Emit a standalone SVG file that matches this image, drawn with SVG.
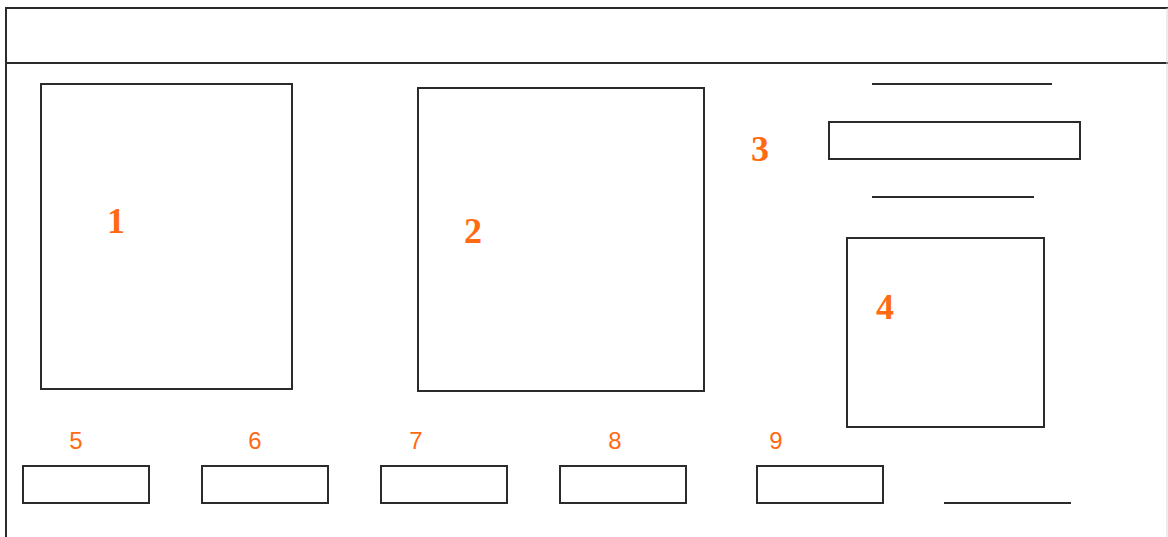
<svg xmlns="http://www.w3.org/2000/svg" width="1168" height="537" viewBox="0 0 1168 537">
<style>
.s{fill:none;stroke:#2b2b2b;stroke-width:2}
.big{font-family:"Liberation Serif",serif;font-size:36px;font-weight:bold;fill:#ff6a13;text-anchor:middle}
.sm{font-family:"Liberation Sans",sans-serif;font-size:24px;fill:#ff6a13;text-anchor:middle}
</style>
<rect width="1168" height="537" fill="#ffffff"/>
<g id="frame">
<path class="s" d="M6,537 V8 H1168 M6,63 H1168"/>
<line x1="1167" y1="8" x2="1167" y2="537" stroke="#d8d8d8" stroke-width="1"/>
</g>
<g id="node1"><rect class="s" x="41" y="84" width="251" height="305"/><text class="big" x="116" y="233">1</text></g>
<g id="node2"><rect class="s" x="418" y="88" width="286" height="303"/><text class="big" x="473" y="243">2</text></g>
<g id="node3"><line class="s" x1="872" y1="84" x2="1052" y2="84"/><rect class="s" x="829" y="122" width="251" height="37"/><line class="s" x1="872" y1="197" x2="1034" y2="197"/><text class="big" x="760" y="161">3</text></g>
<g id="node4"><rect class="s" x="847" y="238" width="197" height="189"/><text class="big" x="885" y="319">4</text></g>
<g id="node5"><rect class="s" x="23" y="466" width="126" height="37"/><text class="sm" x="76" y="449">5</text></g>
<g id="node6"><rect class="s" x="202" y="466" width="126" height="37"/><text class="sm" x="255" y="449">6</text></g>
<g id="node7"><rect class="s" x="381" y="466" width="126" height="37"/><text class="sm" x="416" y="449">7</text></g>
<g id="node8"><rect class="s" x="560" y="466" width="126" height="37"/><text class="sm" x="615" y="449">8</text></g>
<g id="node9"><rect class="s" x="757" y="466" width="126" height="37"/><text class="sm" x="776" y="449">9</text></g>
<g id="node10"><line class="s" x1="944" y1="503" x2="1071" y2="503"/></g>
<g id="connectors"></g>
</svg>
